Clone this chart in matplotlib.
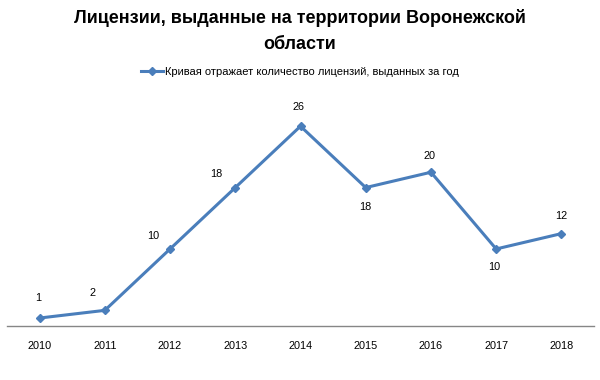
import matplotlib
matplotlib.use("Agg")
import matplotlib.pyplot as plt

years = ["2010", "2011", "2012", "2013", "2014", "2015", "2016", "2017", "2018"]
licenses = [1, 2, 10, 18, 26, 18, 20, 10, 12]
title = "Лицензии, выданные на территории Воронежской\nобласти"
series_name = "Кривая отражает количество лицензий, выданных за год"

# label offsets in pixels (dx, dy) relative to each point
label_offsets = [(-1, 20), (-12, 17), (-17, 13), (-19, 14), (-2, 19),
                 (0, -19), (-1, 16), (-2, -18), (0, 18)]

plt.rcParams['font.family'] = ['Liberation Sans', 'DejaVu Sans']
fig = plt.figure(figsize=(6, 3.8), dpi=100)
ax = fig.add_axes([7/600, (380-325.7)/380, 587/600, (325.7-95.5)/380])
color = '#4A7EBB'
x = list(range(len(years)))
ax.plot(x, licenses, color=color, lw=2.2, marker='D', ms=4.5, label=series_name)
ax.set_xlim(-0.5, len(years)-0.5)
ax.set_ylim(0, 30)
ax.set_xticks(x)
ax.set_xticklabels(years, fontsize=7.8)
ax.tick_params(axis='x', length=0, pad=11)
ax.set_yticks([])
for s in ['top', 'right', 'left']:
    ax.spines[s].set_visible(False)
ax.spines['bottom'].set_color('#868686')
ax.spines['bottom'].set_linewidth(1)

for xi, v, (dx, dy) in zip(x, licenses, label_offsets):
    ax.annotate(str(v), (xi, v), xytext=(dx*0.72, dy*0.72), textcoords='offset points',
                ha='center', va='center', fontsize=7.8)

fig.text(0.5, 1-31/380, title, ha='center', va='center', fontsize=13,
         fontweight='bold', linespacing=1.65)
fig.legend(loc='center', bbox_to_anchor=(0.5, 1-72/380), frameon=False,
           fontsize=8, handlelength=2.0, handletextpad=0.2)
fig.savefig('out.png', dpi=100)
